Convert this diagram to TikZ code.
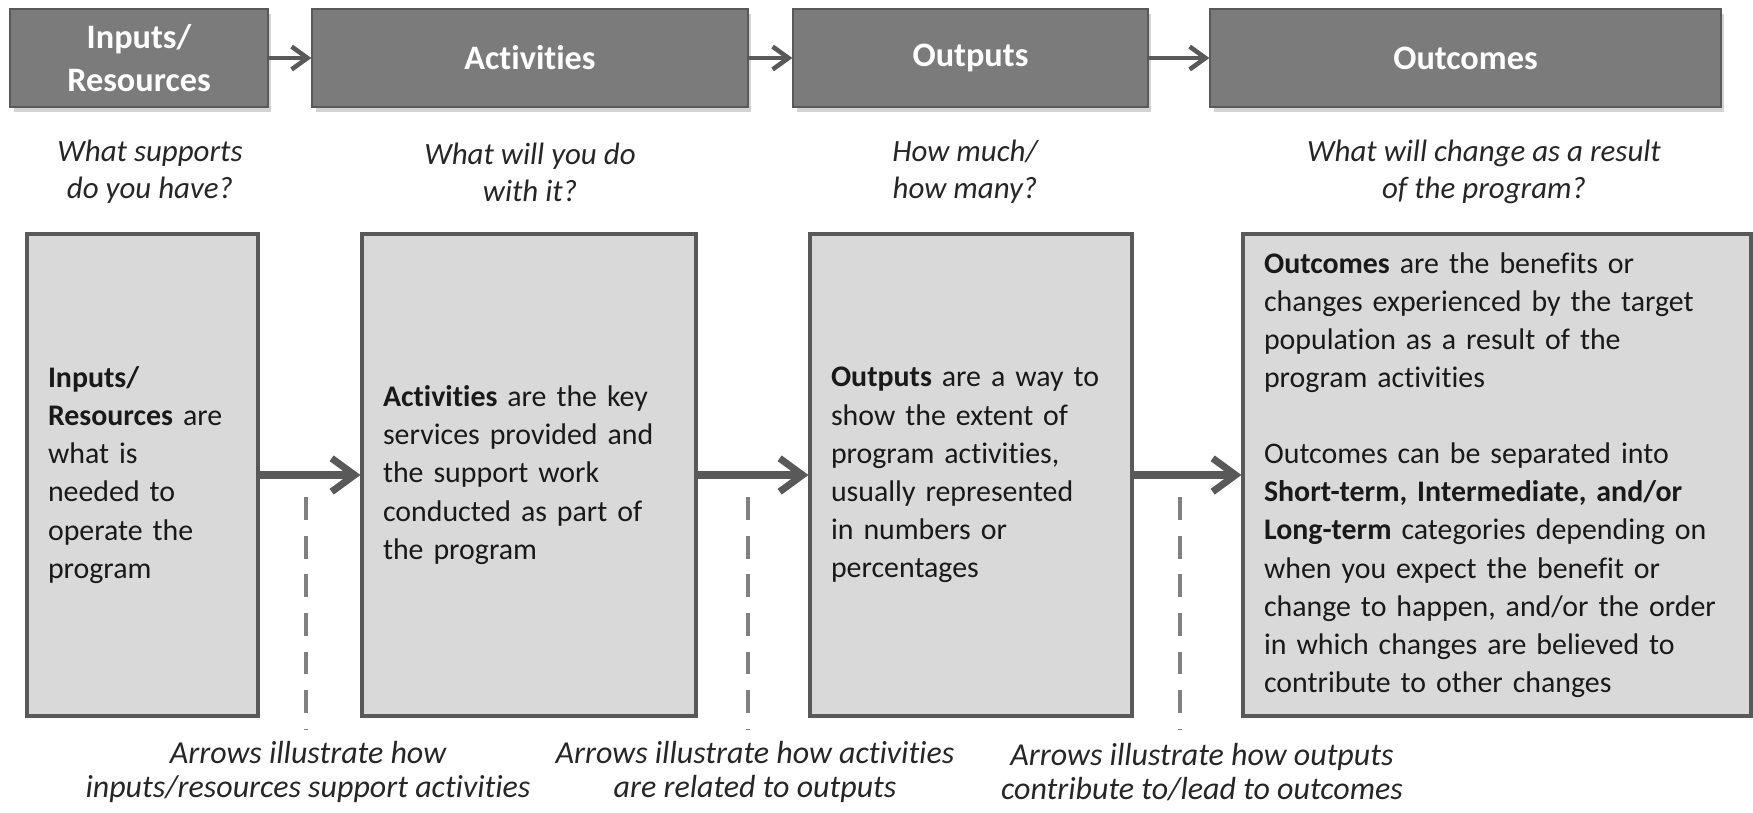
\documentclass[tikz,border=0pt]{standalone}
\usepackage{fontspec}
\setmainfont{Carlito}[Ligatures=NoCommon]
\usetikzlibrary{arrows.meta,shadows}
\definecolor{headgray}{HTML}{7B7B7B}
\definecolor{edgegray}{HTML}{595959}
\definecolor{boxgray}{HTML}{D9D9D9}
\definecolor{guidegray}{HTML}{808080}
\begin{document}
\begin{tikzpicture}[x=0.02cm,y=-0.02cm]
\tikzset{headbox/.style={rectangle, draw=edgegray, line width=0.8pt, fill=headgray, text=white, align=center, inner sep=0pt, minimum height=1.96cm, font=\fontsize{19.5}{24.5}\selectfont\bfseries, drop shadow={shadow xshift=2pt, shadow yshift=-3pt, opacity=0.35}}}
\tikzset{bodybox/.style={rectangle, draw=edgegray, line width=1.8pt, fill=boxgray, align=left, inner xsep=0.42cm, minimum height=9.64cm, font=\fontsize{17}{21.7}\selectfont, text=black!90, drop shadow={shadow xshift=0.6pt, shadow yshift=-1.2pt, opacity=0.5}}}
\tikzset{question/.style={align=center, text=black!85, font=\fontsize{17.6}{21}\selectfont\itshape}}
\tikzset{note/.style={align=center, text=black!85, inner sep=1pt, font=\fontsize{18.2}{19.5}\selectfont\itshape}}
\tikzset{headarrow/.style={draw=edgegray, line width=2.6pt, -{Straight Barb[length=9pt, width=13pt]}}}
\tikzset{flowarrow/.style={draw=edgegray, line width=4pt, -{Straight Barb[length=13pt, width=19pt]}}}
\tikzset{guide/.style={draw=guidegray, line width=2.8pt, dash pattern=on 13pt off 9pt}}
\useasboundingbox (0,0) rectangle (1753,812);
\node[headbox, minimum width=5.16cm] at (139,58) (h1) {Inputs/\\Resources};
\node[headbox, minimum width=8.72cm] at (530,58) (h2) {Activities};
\node[headbox, minimum width=7.10cm] at (970.5,58) (h3) {Outputs};
\node[headbox, minimum width=10.22cm] at (1465.5,58) (h4) {Outcomes};
			\draw [headarrow] (h1) -- (h2);
			\draw [headarrow] (h2) -- (h3);
			\draw [headarrow] (h3) -- (h4);

\node[question] at (150,172) (q1) {What supports\\do you have?};
\node[question] at (530,172) (q2) {What will you do\\with it?};
\node[question] at (965,172) (q3) {How much/\\how many?};
\node[question] at (1484,172) (q4) {What will change as a result\\of the program?};

\node[bodybox, minimum width=4.62cm, text width=3.78cm] at (142.5,475) (b1) {\textbf{Inputs/}\\\textbf{Resources} are\\what is\\needed to\\operate the\\program};
\node[bodybox, minimum width=6.68cm, text width=5.84cm] at (529,475) (b2) {\textbf{Activities} are the key\\services provided and\\the support work\\conducted as part of\\the program};
\node[bodybox, minimum width=6.44cm, text width=5.60cm] at (971,475) (b3) {\textbf{Outputs} are a way to\\show the extent of\\program activities,\\usually represented\\in numbers or\\percentages};
\node[bodybox, minimum width=10.16cm, text width=9.32cm] at (1497,475) (b4) {\textbf{Outcomes} are the benefits or\\changes experienced by the target\\population as a result of the\\program activities\\[21.7pt]Outcomes can be separated into\\\textbf{Short-term, Intermediate, and/or}\\\textbf{Long-term} categories depending on\\when you expect the benefit or\\change to happen, and/or the order\\in which changes are believed to\\contribute to other changes};
			\draw [flowarrow] (b1) -- (b2);
			\draw [flowarrow] (b2) -- (b3);
			\draw [flowarrow] (b3) -- (b4);

			% dashed guides down to the notes
\node[note] at (308,772) (n1) {Arrows illustrate how\\inputs/resources support activities};
\node[note] at (755,772) (n2) {Arrows illustrate how activities\\are related to outputs};
\node[note] at (1202,772) (n3) {Arrows illustrate how outputs\\contribute to/lead to outcomes};
\coordinate (g1) at (306,497); \coordinate (g1e) at (306,730);
\coordinate (g2) at (748,497); \coordinate (g2e) at (748,730);
\coordinate (g3) at (1180,497); \coordinate (g3e) at (1180,730);
			\draw [guide] (g1) -- (g1e);
			\draw [guide] (g2) -- (g2e);
			\draw [guide] (g3) -- (g3e);
\end{tikzpicture}
\end{document}
